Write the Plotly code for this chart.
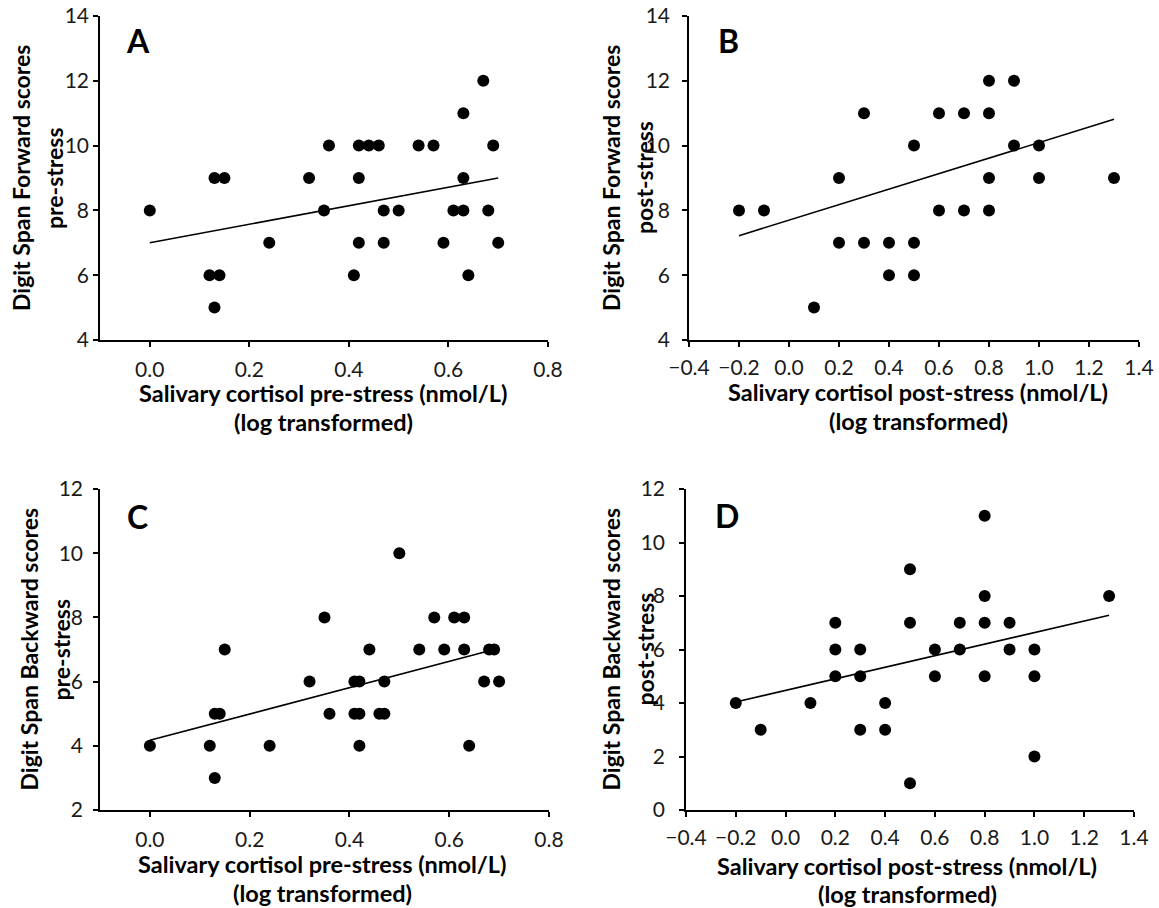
import plotly.graph_objects as go

W, H = 1159, 908

# ---------------- data ----------------
# Panel A: Digit Span Forward vs cortisol pre-stress
a_x = [0.67, 0.63,
       0.36, 0.42, 0.44, 0.46, 0.54, 0.57, 0.69,
       0.13, 0.15, 0.32, 0.42, 0.63,
       0.00, 0.35, 0.47, 0.50, 0.61, 0.63, 0.68,
       0.24, 0.42, 0.47, 0.59, 0.70,
       0.12, 0.14, 0.41, 0.64,
       0.13]
a_y = [12, 11,
       10, 10, 10, 10, 10, 10, 10,
       9, 9, 9, 9, 9,
       8, 8, 8, 8, 8, 8, 8,
       7, 7, 7, 7, 7,
       6, 6, 6, 6,
       5]
a_fit_x = [0.0, 0.70]
a_fit_y = [7.0, 9.0]

# Panel B: Digit Span Forward vs cortisol post-stress
b_x = [0.8, 0.9,
       0.3, 0.6, 0.7, 0.8,
       0.5, 0.9, 1.0,
       0.2, 0.8, 1.0, 1.3,
       -0.2, -0.1, 0.6, 0.7, 0.8,
       0.2, 0.3, 0.4, 0.5,
       0.4, 0.5,
       0.1]
b_y = [12, 12,
       11, 11, 11, 11,
       10, 10, 10,
       9, 9, 9, 9,
       8, 8, 8, 8, 8,
       7, 7, 7, 7,
       6, 6,
       5]
b_fit_x = [-0.2, 1.3]
b_fit_y = [7.22, 10.81]

# Panel C: Digit Span Backward vs cortisol pre-stress
c_x = [0.50,
       0.35, 0.57, 0.61, 0.63,
       0.15, 0.44, 0.54, 0.59, 0.63, 0.68, 0.69,
       0.32, 0.41, 0.42, 0.47, 0.67, 0.70,
       0.13, 0.14, 0.36, 0.41, 0.42, 0.46, 0.47,
       0.00, 0.12, 0.24, 0.42, 0.64,
       0.13]
c_y = [10,
       8, 8, 8, 8,
       7, 7, 7, 7, 7, 7, 7,
       6, 6, 6, 6, 6, 6,
       5, 5, 5, 5, 5, 5, 5,
       4, 4, 4, 4, 4,
       3]
c_fit_x = [0.0, 0.69]
c_fit_y = [4.17, 7.0]

# Panel D: Digit Span Backward vs cortisol post-stress
d_x = [0.8,
       0.5,
       0.8, 1.3,
       0.2, 0.5, 0.7, 0.8, 0.9,
       0.2, 0.3, 0.6, 0.7, 0.9, 1.0,
       0.2, 0.3, 0.6, 0.8, 1.0,
       -0.2, 0.1, 0.4,
       -0.1, 0.3, 0.4,
       1.0,
       0.5]
d_y = [11,
       9,
       8, 8,
       7, 7, 7, 7, 7,
       6, 6, 6, 6, 6, 6,
       5, 5, 5, 5, 5,
       4, 4, 4,
       3, 3, 3,
       2,
       1]
d_fit_x = [-0.2, 1.3]
d_fit_y = [4.04, 7.28]

pre_ticks = [0.0, 0.2, 0.4, 0.6, 0.8]
post_ticks = [-0.4, -0.2, 0.0, 0.2, 0.4, 0.6, 0.8, 1.0, 1.2, 1.4]

panel_letters = ["A", "B", "C", "D"]
x_titles = ["Salivary cortisol pre-stress (nmol/L)", "Salivary cortisol post-stress (nmol/L)",
            "Salivary cortisol pre-stress (nmol/L)", "Salivary cortisol post-stress (nmol/L)"]
y_titles_1 = ["Digit Span Forward scores", "Digit Span Forward scores",
              "Digit Span Backward scores", "Digit Span Backward scores"]
y_titles_2 = ["pre-stress", "post-stress", "pre-stress", "post-stress"]
x_title_2 = "(log transformed)"

# ---------------- layout geometry (page pixels) ----------------
panels = [
    dict(x=a_x, y=a_y, fx=a_fit_x, fy=a_fit_y, px=(100, 548), py=(16, 340),
         xr=[-0.1, 0.8], yr=[4, 14], xt=pre_ticks, ystand=0, xstand=5,
         letter=(138, 40), ytl=(21, 54), xtl=(323, 393, 422)),
    dict(x=b_x, y=b_y, fx=b_fit_x, fy=b_fit_y, px=(689, 1139), py=(16, 340),
         xr=[-0.4, 1.4], yr=[4, 14], xt=post_ticks, ystand=8, xstand=3,
         letter=(728, 40), ytl=(611, 644), xtl=(918, 392, 421)),
    dict(x=c_x, y=c_y, fx=c_fit_x, fy=c_fit_y, px=(100, 549), py=(489, 810),
         xr=[-0.1, 0.8], yr=[2, 12], xt=pre_ticks, ystand=6, xstand=5,
         letter=(137, 516), ytl=(28, 60), xtl=(322, 864, 893)),
    dict(x=d_x, y=d_y, fx=d_fit_x, fy=d_fit_y, px=(686, 1134), py=(489, 810),
         xr=[-0.4, 1.4], yr=[0, 12], xt=post_ticks, ystand=10, xstand=3,
         letter=(727, 515), ytl=(610, 644), xtl=(907, 866, 894)),
]

FONT = "Lato"
fig = go.Figure()
layout = dict(template="none", width=W, height=H,
              margin=dict(l=0, r=0, t=0, b=0, autoexpand=False),
              paper_bgcolor="white", plot_bgcolor="white", showlegend=False,
              font=dict(family=FONT, color="#111111"))
annotations = []

def fx(p):
    return p / W

def fy(p):
    return 1 - p / H

for i, p in enumerate(panels):
    n = "" if i == 0 else str(i + 1)
    xa, ya = "x" + n, "y" + n
    fig.add_trace(go.Scatter(x=p["x"], y=p["y"], mode="markers", xaxis=xa, yaxis=ya,
                             marker=dict(size=12, color="black", line=dict(width=0)),
                             hoverinfo="x+y"))
    fig.add_trace(go.Scatter(x=p["fx"], y=p["fy"], mode="lines", xaxis=xa, yaxis=ya,
                             line=dict(color="black", width=1.6), hoverinfo="skip"))
    common = dict(showgrid=False, zeroline=False, showline=True, linecolor="black",
                  linewidth=1.5, ticks="outside", ticklen=5, tickwidth=1.5, tickcolor="black",
                  automargin=False, mirror=False, ticklabeloverflow="allow",
                  tickfont=dict(family=FONT, size=21, color="#1a1a1a"), fixedrange=True)
    layout["xaxis" + n] = dict(common, domain=[fx(p["px"][0]), fx(p["px"][1])], range=p["xr"],
                               tickmode="array", tickvals=p["xt"], tickformat=".1f",
                               anchor=ya, ticklabelstandoff=p["xstand"])
    layout["yaxis" + n] = dict(common, domain=[fy(p["py"][1]), fy(p["py"][0])], range=p["yr"],
                               tickmode="linear", tick0=0, dtick=2, anchor=xa,
                               ticklabelstandoff=p["ystand"])
    lx, ly = p["letter"]
    annotations.append(dict(text="<b>%s</b>" % panel_letters[i], x=fx(lx), y=fy(ly), xref="paper",
                            yref="paper", showarrow=False, xanchor="center", yanchor="middle",
                            font=dict(family=FONT, size=32, color="black")))
    t1, t2 = p["ytl"]
    cy = (p["py"][0] + p["py"][1]) / 2
    annotations.append(dict(text="<b>%s</b>" % y_titles_1[i], x=fx(t1), y=fy(cy), xref="paper",
                            yref="paper", showarrow=False, textangle=-90, xanchor="center",
                            yanchor="middle", font=dict(family=FONT, size=23, color="black")))
    annotations.append(dict(text="<b>%s</b>" % y_titles_2[i], x=fx(t2), y=fy(cy), xref="paper",
                            yref="paper", showarrow=False, textangle=-90, xanchor="center",
                            yanchor="middle", font=dict(family=FONT, size=23, color="black")))
    cx, l1, l2 = p["xtl"]
    annotations.append(dict(text="<b>%s</b>" % x_titles[i], x=fx(cx), y=fy(l1), xref="paper",
                            yref="paper", showarrow=False, xanchor="center", yanchor="middle",
                            font=dict(family=FONT, size=23.5, color="black")))
    annotations.append(dict(text="<b>%s</b>" % x_title_2, x=fx(cx), y=fy(l2), xref="paper",
                            yref="paper", showarrow=False, xanchor="center", yanchor="middle",
                            font=dict(family=FONT, size=23.5, color="black")))

layout["annotations"] = annotations
fig.update_layout(**layout)
# remove the default 8px page margin so the figure fills the window exactly
fig.write_html("out.html", config={"displayModeBar": False, "staticPlot": False},
               post_script="document.body.style.margin='0';document.body.style.overflow='hidden';")
